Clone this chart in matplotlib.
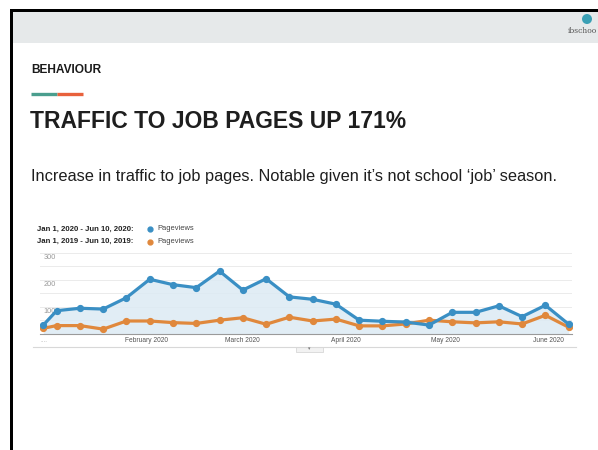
import numpy as np
import matplotlib
matplotlib.use('Agg')
import matplotlib.pyplot as plt
from matplotlib.patches import Rectangle, Circle

matplotlib.rcParams['font.family'] = ['Liberation Sans', 'DejaVu Sans']

# weekly pageviews (GA export)
week_dates = ['2020-01-01', '2020-01-05', '2020-01-12', '2020-01-19', '2020-01-26',
              '2020-02-02', '2020-02-09', '2020-02-16', '2020-02-23',
              '2020-03-01', '2020-03-08', '2020-03-15', '2020-03-22', '2020-03-29',
              '2020-04-05', '2020-04-12', '2020-04-19', '2020-04-26',
              '2020-05-03', '2020-05-10', '2020-05-17', '2020-05-24', '2020-05-31',
              '2020-06-07']
views_2020 = [33, 86, 95, 92, 134, 202, 182, 171, 232, 162, 204, 137, 128,
              110, 51, 47, 44, 33, 80, 80, 104, 64, 106, 36]
views_2019 = [21, 31, 31, 18, 48, 48, 42, 39, 51, 60, 36, 62, 48,
              55, 30, 30, 37, 51, 45, 41, 45, 37, 69, 25]

month_ticks = ['2020-02-01', '2020-03-01', '2020-04-01', '2020-05-01', '2020-06-01']
month_labels = ['February 2020', 'March 2020', 'April 2020', 'May 2020', 'June 2020']
y_labels = [100, 200, 300]

W, H = 598, 450
fig = plt.figure(figsize=(W / 100, H / 100), dpi=100)

# slide background in pixel coords
bg = fig.add_axes([0, 0, 1, 1])
bg.set_xlim(0, W)
bg.set_ylim(H, 0)
bg.axis('off')

bg.add_patch(Rectangle((12, 12), W, 31, color='#e6e9ea', lw=0))
bg.add_patch(Rectangle((10, 9), W, 3, color='black', lw=0))
bg.add_patch(Rectangle((10, 9), 3, H, color='black', lw=0))

# logo (the slide crops it at the right edge)
bg.add_patch(Circle((587, 19), 5, color='#3aa0b5', lw=0))
bg.text(597, 31, 'ibschoo', fontsize=5.5, color='#555555', family='DejaVu Serif',
        va='center', ha='right')

bg.text(31, 70, 'BEHAVIOUR', fontsize=8.6, fontweight='bold', color='#1a1a1a', va='center')
bg.plot([31, 57], [93.5, 93.5], color='#4a9e8e', lw=2.4, solid_capstyle='butt')
bg.plot([57, 83], [93.5, 93.5], color='#e8613c', lw=2.4, solid_capstyle='butt')
bg.text(30, 121, 'TRAFFIC TO JOB PAGES UP 171%', fontsize=16.5, fontweight='bold',
        color='#1e1e1e', va='center')
bg.text(31, 176, 'Increase in traffic to job pages. Notable given it\u2019s not school \u2018job\u2019 season.',
        fontsize=11.8, color='#1e1e1e', va='center')

# legend
blue = '#3a8fc4'
orange = '#e0883c'
bg.text(37, 229, 'Jan 1, 2020 - Jun 10, 2020:', fontsize=5.6, fontweight='bold',
        color='#222222', va='center')
bg.text(37, 241.5, 'Jan 1, 2019 - Jun 10, 2019:', fontsize=5.6, fontweight='bold',
        color='#222222', va='center')
bg.plot([149.5], [229], 'o', color=blue, ms=3.5)
bg.plot([149.5], [241.5], 'o', color=orange, ms=3.5)
bg.text(157, 229, 'Pageviews', fontsize=5.4, color='#444444', va='center')
bg.text(157, 241.5, 'Pageviews', fontsize=5.4, color='#444444', va='center')

# footer divider with small tab
bg.plot([33, 576], [346.5, 346.5], color='#d8d8d8', lw=0.8)
bg.add_patch(Rectangle((296, 346.5), 27, 5, facecolor='#f2f2f2', edgecolor='#d0d0d0', lw=0.5))
bg.text(309.5, 349, '\u25be', fontsize=3.5, color='#777777', ha='center', va='center')
bg.text(40, 340, '....', fontsize=4.5, color='#999999', va='center')

# chart
x0, x1, ytop, ybot = 40, 572, 252.7, 334
ax = fig.add_axes([x0 / W, 1 - ybot / H, (x1 - x0) / W, (ybot - ytop) / H])
dates = np.array(week_dates, dtype='datetime64[D]')
ax.fill_between(dates, views_2020, 0, color='#dceaf4', alpha=0.85, lw=0)
ax.plot(dates, views_2019, '-o', color=orange, lw=2.3, ms=4.2, zorder=3)
ax.plot(dates, views_2020, '-o', color=blue, lw=2.3, ms=4.2, zorder=4)

ax.set_ylim(0, 300)
ax.set_xlim(dates[0] - np.timedelta64(1, 'D'), dates[-1] + np.timedelta64(1, 'D'))
ax.set_yticks(np.arange(50, 301, 50))
ax.yaxis.grid(True, color='#ebebeb', lw=0.7)
ax.set_axisbelow(True)
ax.tick_params(axis='y', length=0, labelleft=False)
for v in y_labels:
    ax.text(0.006, v - 4, str(v), transform=ax.get_yaxis_transform(), fontsize=5.3,
            color='#999999', va='top', ha='left', zorder=2)

ax.set_xticks(np.array(month_ticks, dtype='datetime64[D]'))
ax.set_xticklabels(month_labels)
ax.tick_params(axis='x', length=0, labelsize=4.8, labelcolor='#555555', pad=2.5)

for s in ['top', 'left', 'right']:
    ax.spines[s].set_visible(False)
ax.spines['bottom'].set_color('#9a9a9a')
ax.spines['bottom'].set_linewidth(0.8)
ax.patch.set_alpha(0)

fig.savefig('out.png', dpi=100)
